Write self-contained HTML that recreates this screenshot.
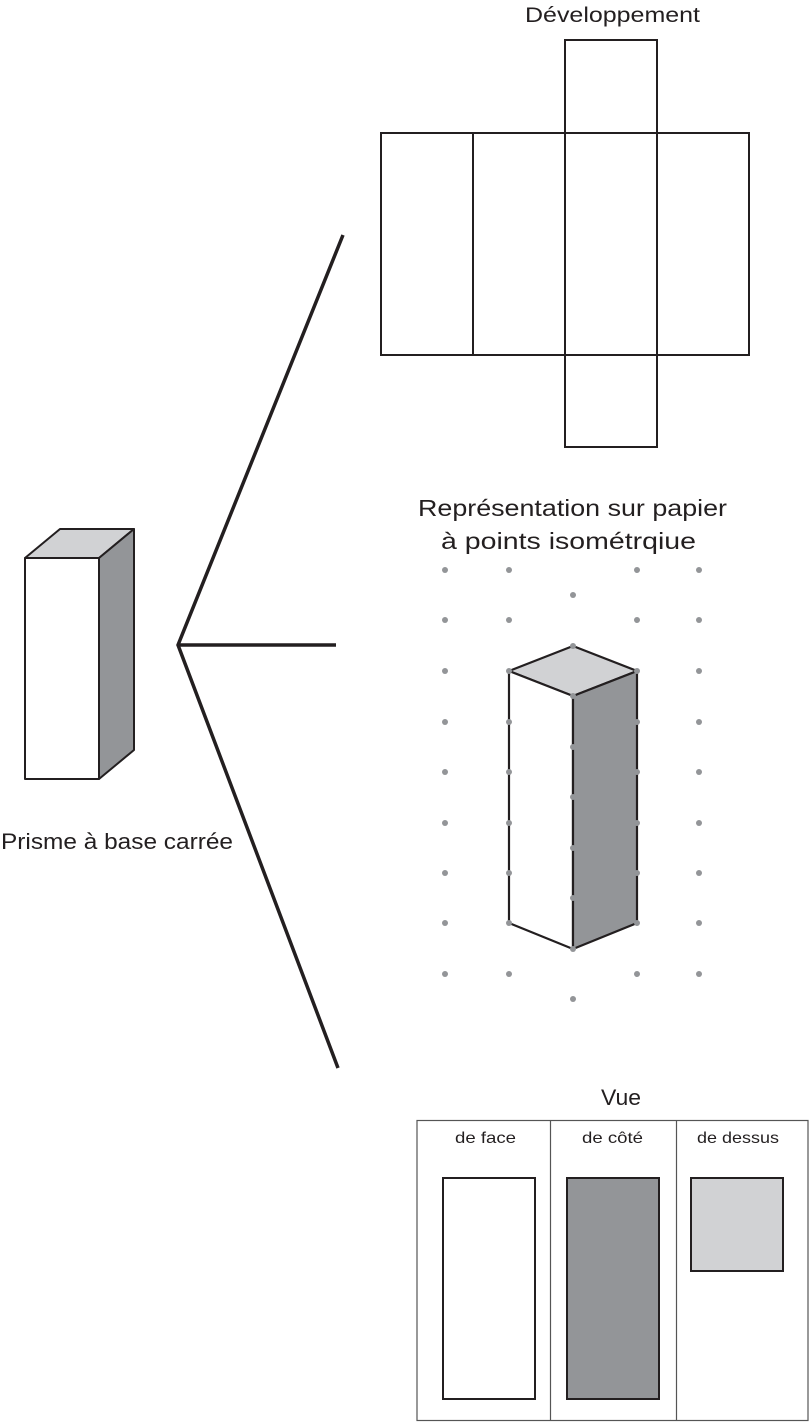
<!DOCTYPE html>
<html><head><meta charset="utf-8"><style>html,body{margin:0;padding:0;background:#fff}svg{display:block}text{font-family:"Liberation Sans",sans-serif;fill:#231f20}</style></head>
<body>
<svg width="809" height="1422" viewBox="0 0 809 1422" xmlns="http://www.w3.org/2000/svg">
<text x="525" y="22" font-size="21" textLength="175" lengthAdjust="spacingAndGlyphs">Développement</text>
<g fill="none" stroke="#231f20" stroke-width="2">
<rect x="565" y="40" width="92" height="93"/>
<rect x="381" y="133" width="368" height="222"/>
<line x1="473" y1="133" x2="473" y2="355"/>
<line x1="565" y1="133" x2="565" y2="355"/>
<line x1="657" y1="133" x2="657" y2="355"/>
<rect x="565" y="355" width="92" height="92"/>
</g>
<g stroke="#231f20" stroke-width="3.5" fill="none" stroke-linejoin="miter">
<polyline points="343,235 178,645 338,1068"/>
<line x1="178" y1="645" x2="336" y2="645"/>
</g>
<g stroke="#231f20" stroke-width="2" stroke-linejoin="round">
<polygon points="25,558 60,529 134,529 99,558" fill="#d1d2d4"/>
<polygon points="99,558 134,529 134,750 99,779" fill="#939598"/>
<rect x="25" y="558" width="74" height="221" fill="#fff"/>
</g>
<text x="1" y="849" font-size="22" textLength="232" lengthAdjust="spacingAndGlyphs">Prisme à base carrée</text>
<text x="418" y="516" font-size="23" textLength="309" lengthAdjust="spacingAndGlyphs">Représentation sur papier</text>
<text x="441" y="549" font-size="23" textLength="255" lengthAdjust="spacingAndGlyphs">à points isométrqiue</text>
<g fill="#939598">
<circle cx="445" cy="570" r="3"/><circle cx="445" cy="620" r="3"/><circle cx="445" cy="671" r="3"/><circle cx="445" cy="722" r="3"/><circle cx="445" cy="772" r="3"/><circle cx="445" cy="823" r="3"/><circle cx="445" cy="873" r="3"/><circle cx="445" cy="923" r="3"/><circle cx="445" cy="974" r="3"/>
<circle cx="699" cy="570" r="3"/><circle cx="699" cy="620" r="3"/><circle cx="699" cy="671" r="3"/><circle cx="699" cy="722" r="3"/><circle cx="699" cy="772" r="3"/><circle cx="699" cy="823" r="3"/><circle cx="699" cy="873" r="3"/><circle cx="699" cy="923" r="3"/><circle cx="699" cy="974" r="3"/>
<circle cx="509" cy="570" r="3"/><circle cx="509" cy="620" r="3"/><circle cx="509" cy="974" r="3"/>
<circle cx="637" cy="570" r="3"/><circle cx="637" cy="620" r="3"/><circle cx="637" cy="974" r="3"/>
<circle cx="573" cy="595" r="3"/><circle cx="573" cy="999" r="3"/>
</g>
<g stroke="#231f20" stroke-width="2.2" stroke-linejoin="round">
<polygon points="573,646 637,671 573,696 509,671" fill="#d1d2d4"/>
<polygon points="509,671 573,696 573,949 509,923" fill="#fff"/>
<polygon points="573,696 637,671 637,923 573,949" fill="#939598"/>
</g>
<g fill="#939598">
<circle cx="573" cy="646" r="3"/><circle cx="509" cy="671" r="3"/><circle cx="637" cy="671" r="3"/><circle cx="573" cy="696" r="3"/>
<circle cx="509" cy="722" r="3"/><circle cx="509" cy="772" r="3"/><circle cx="509" cy="823" r="3"/><circle cx="509" cy="873" r="3"/><circle cx="509" cy="923" r="3"/>
<circle cx="637" cy="722" r="3"/><circle cx="637" cy="772" r="3"/><circle cx="637" cy="823" r="3"/><circle cx="637" cy="873" r="3"/><circle cx="637" cy="923" r="3"/>
<circle cx="573" cy="747" r="3"/><circle cx="573" cy="797" r="3"/><circle cx="573" cy="848" r="3"/><circle cx="573" cy="898" r="3"/><circle cx="573" cy="949" r="3"/>
</g>
<text x="601" y="1105" font-size="22" textLength="40" lengthAdjust="spacingAndGlyphs">Vue</text>
<g fill="none" stroke="#555" stroke-width="1.2">
<rect x="417" y="1120.5" width="391" height="300"/>
<line x1="550.5" y1="1120" x2="550.5" y2="1421"/>
<line x1="676.5" y1="1120" x2="676.5" y2="1421"/>
</g>
<text x="455" y="1143" font-size="16" textLength="61" lengthAdjust="spacingAndGlyphs">de face</text>
<text x="582" y="1143" font-size="16" textLength="61" lengthAdjust="spacingAndGlyphs">de côté</text>
<text x="697" y="1143" font-size="16" textLength="82" lengthAdjust="spacingAndGlyphs">de dessus</text>
<g stroke="#231f20" stroke-width="2">
<rect x="443" y="1178" width="92" height="221" fill="#fff"/>
<rect x="567" y="1178" width="92" height="221" fill="#939598"/>
<rect x="691" y="1178" width="92" height="93" fill="#d1d2d4"/>
</g>
</svg>
</body></html>
